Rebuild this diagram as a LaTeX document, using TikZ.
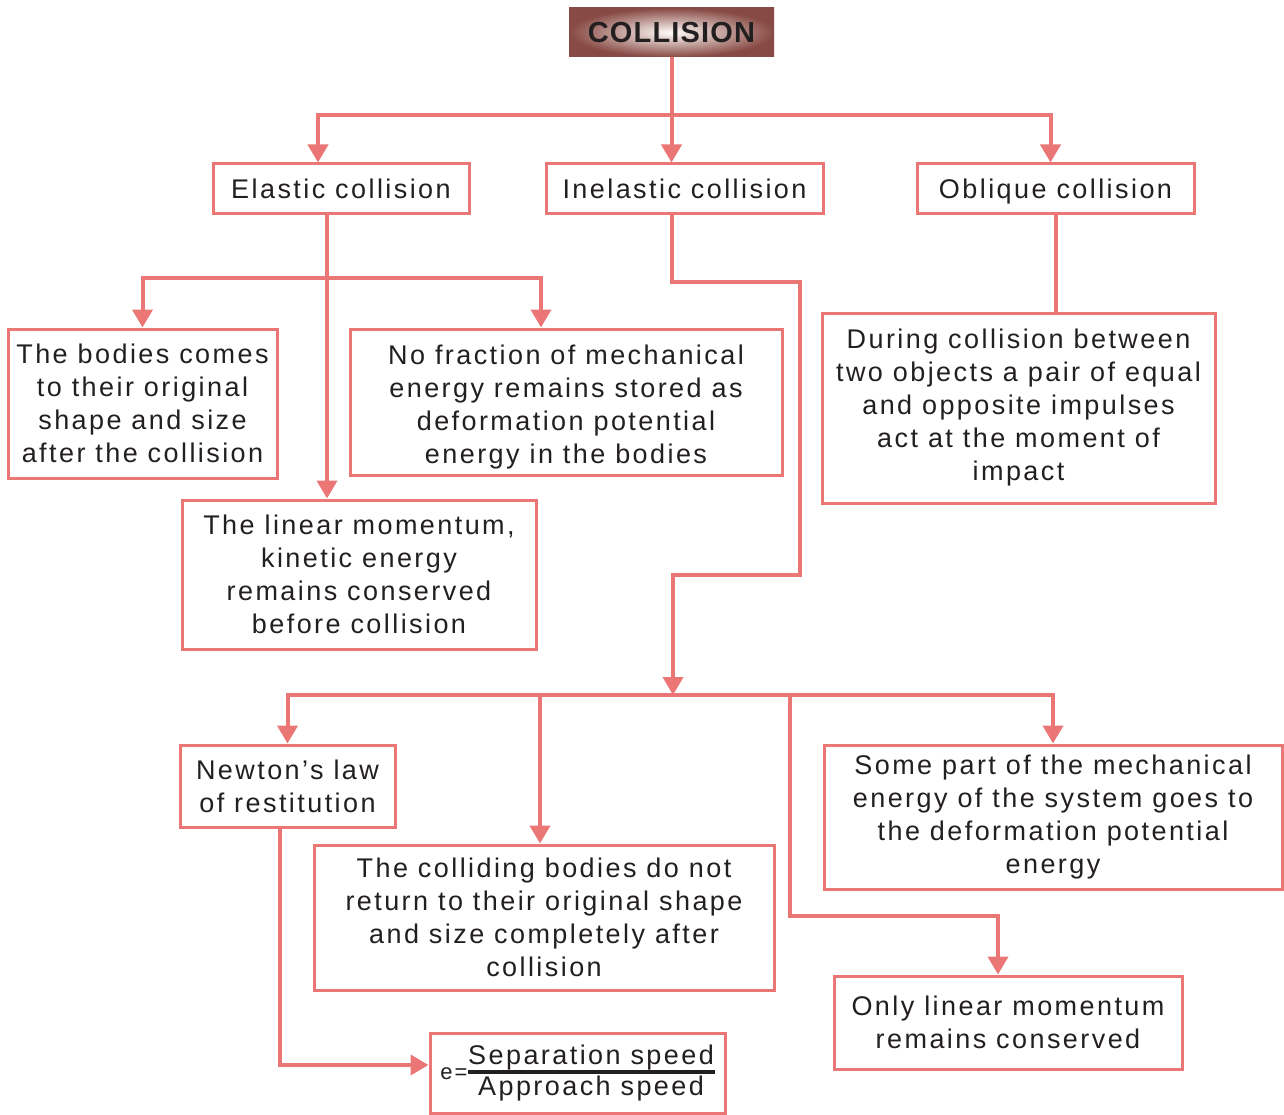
\documentclass[tikz,border=0pt]{standalone}
\usepackage{fontspec}
\setmainfont{Liberation Sans}[LetterSpace=9]
\usetikzlibrary{arrows.meta}

\definecolor{linkred}{RGB}{234,118,118}
\definecolor{ink}{RGB}{35,31,32}
\definecolor{headdark}{RGB}{136,74,68}
\definecolor{headlight}{RGB}{255,252,250}

\tikzset{
    box/.style={draw=linkred, line width=3pt, align=center, inner sep=0pt, text=ink,
        font=\fontsize{27}{33}\selectfont},
    kind/.style={box, minimum height=50, text height=23pt, text depth=3pt},
    link/.style={draw=linkred, line width=4pt},
    flow/.style={link, -{Triangle[width=20pt,length=18pt]}},
}

\newcommand{\ratio}[2]{$\vcenter{\hbox to 247pt{\hss#1\hss}\kern-1pt
    \hrule height 4pt\kern2pt\hbox to 247pt{\hss#2\hss}}$}

\begin{document}
\begin{tikzpicture}[x=1pt,y=-1pt]
    \useasboundingbox (0,0) rectangle (1284,1115);

    \node[inner sep=0pt, minimum width=205, minimum height=49, inner color=headlight,
        outer color=headdark, text=ink,
        font=\addfontfeature{LetterSpace=4}\bfseries\fontsize{29}{33}\selectfont]
        (collision) at (671.5,32.5) {COLLISION};

    \node[kind, minimum width=256] (elastic) at (341,189) {Elastic collision};
    \node[kind, minimum width=277] (inelastic) at (684.5,189) {Inelastic collision};
    \node[kind, minimum width=277] (oblique) at (1055.5,189) {Oblique collision};

    \node[box, minimum width=269, minimum height=149] (bodies) at (142.5,403.5)
        {The bodies comes\\to their original\\shape and size\\after the collision};
    \node[box, minimum width=432, minimum height=146] (nofraction) at (566,402)
        {\rule{0pt}{30pt}No fraction of mechanical\\energy remains stored as\\deformation potential\\energy in the bodies};
    \node[box, minimum width=354, minimum height=149] (linear) at (359,574.5)
        {The linear momentum,\\kinetic energy\\remains conserved\\before collision};
    \node[box, minimum width=393, minimum height=190] (during) at (1018.5,408)
        {During collision between\\two objects a pair of equal\\and opposite impulses\\act at the moment of\\impact};

    \node[box, minimum width=215, minimum height=82] (newton) at (287.5,786)
        {Newton’s law\\of restitution};
    \node[box, minimum width=460, minimum height=145] (colliding) at (544,917.5)
        {The colliding bodies do not\\return to their original shape\\and size completely after\\collision};
    \node[box, minimum width=458, minimum height=144] (somepart) at (1053,817)
        {Some part of the mechanical\\energy of the system goes to\\the deformation potential\\energy};
    \node[box, minimum width=348, minimum height=93] (onlylinear) at (1008,1022.5)
        {Only linear momentum\\remains conserved};
    \node[box, minimum width=295, minimum height=80] (formula) at (577.5,1073)
        {{\fontsize{22}{26}\selectfont e=}\ratio{Separation speed}{Approach speed}};

    \draw[flow] (collision) -- (collision |- inelastic.north);
    \coordinate (split) at (collision |- 0,115);
    \draw[flow] (split) -| ([xshift=-23]elastic.north);
    \draw[flow] (split) -| ([xshift=-5]oblique.north);

    \coordinate (e0) at ([xshift=-14]elastic.south);
    \draw[flow] (e0) -- (e0 |- linear.north);
    \draw[flow] (e0 |- 0,278) -| (bodies.north);
    \draw[flow] (e0 |- 0,278) -| ([xshift=-25]nofraction.north);

    \draw[link] (oblique) -- (oblique |- during.north);

    \coordinate (hub) at (673,695);
    \draw[flow] ([xshift=-13]inelastic.south) |- (800,282) -- (800,575) -| (hub);
    \draw[flow] (hub) -| (newton.north);
    \draw[flow] (hub) -| (somepart.north);
    \coordinate (c0) at ([xshift=-4]colliding.north);
    \draw[flow] (c0 |- hub) -- (c0);
    \coordinate (o0) at ([xshift=-10]onlylinear.north);
    \draw[flow] (790,695) |- (o0 |- 0,916) -- (o0);

    \draw[flow] ([xshift=-8]newton.south) |- ([yshift=8]formula.west);
\end{tikzpicture}
\end{document}
